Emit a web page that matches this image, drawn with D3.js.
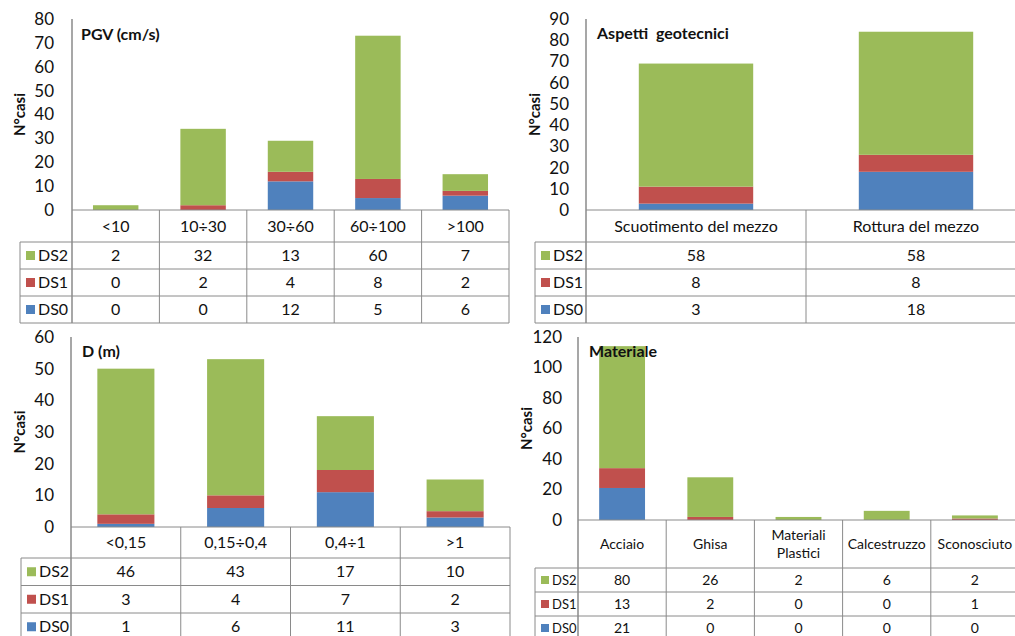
<!DOCTYPE html>
<html>
<head>
<meta charset="utf-8">
<script src="https://cdn.jsdelivr.net/npm/d3@7"></script>
<style>
	body { margin: 0; background: #fff; }
	svg { display: block; font-family: Lato, 'Liberation Sans', sans-serif; }
</style>
</head>
<body>
<svg id="chart" width="1015" height="636"></svg>
<script>
/* global d3 */
const seriesKeys = ['DS2', 'DS1', 'DS0'];
const seriesColors = { DS2: '#9bbb59', DS1: '#c0504d', DS0: '#4f81bd' };

// PGV (cm/s)
const pgvCategories = ['<10', '10÷30', '30÷60', '60÷100', '>100'];
const pgvDS2 = [2, 32, 13, 60, 7];
const pgvDS1 = [0, 2, 4, 8, 2];
const pgvDS0 = [0, 0, 12, 5, 6];
const pgvTicks = [0, 10, 20, 30, 40, 50, 60, 70, 80];

// Aspetti geotecnici
const geoCategories = ['Scuotimento del mezzo', 'Rottura del mezzo'];
const geoDS2 = [58, 58];
const geoDS1 = [8, 8];
const geoDS0 = [3, 18];
const geoTicks = [0, 10, 20, 30, 40, 50, 60, 70, 80, 90];

// D (m)
const dCategories = ['<0,15', '0,15÷0,4', '0,4÷1', '>1'];
const dDS2 = [46, 43, 17, 10];
const dDS1 = [3, 4, 7, 2];
const dDS0 = [1, 6, 11, 3];
const dTicks = [0, 10, 20, 30, 40, 50, 60];

// Materiale
const matCategories = ['Acciaio', 'Ghisa', 'Materiali Plastici', 'Calcestruzzo', 'Sconosciuto'];
const matDS2 = [80, 26, 2, 6, 2];
const matDS1 = [13, 2, 0, 0, 1];
const matDS0 = [21, 0, 0, 0, 0];
const matTicks = [0, 20, 40, 60, 80, 100, 120];

const LINE_COLOR = '#8a8a8a';
const TEXT_COLOR = '#111';

const svg = d3.select('#chart');

function drawPanel(cfg) {
	const { title, categories, values, ticks, box } = cfg;
	const rows = categories.map((c, i) => ({
		cat: c,
		DS0: values.DS0[i],
		DS1: values.DS1[i],
		DS2: values.DS2[i]
	}));

	const xScale = d3
		.scaleBand(categories, [box.left, box.right])
		.paddingInner(0.48)
		.paddingOuter(0.24);
	const yScale = d3.scaleLinear([0, ticks[ticks.length - 1]], [box.zero, box.top]);
	const step = xScale.step();
	const g = svg.append('g');

	/** BARS ******************************************************************/
	const stacked = d3.stack().keys(['DS0', 'DS1', 'DS2'])(rows);
	g.selectAll('.layer')
		.data(stacked)
		.enter()
		.append('g')
		.attr('fill', (d) => seriesColors[d.key])
		.selectAll('rect')
		.data((d) => d)
		.enter()
		.append('rect')
		.attr('x', (d) => xScale(d.data.cat))
		.attr('width', xScale.bandwidth())
		.attr('y', (d) => yScale(d[1]))
		.attr('height', (d) => yScale(d[0]) - yScale(d[1]));

	/** LEFT AXIS *************************************************************/
	const leftAxis = d3.axisLeft(yScale).tickValues(ticks).tickSize(0).tickPadding(box.tickPad);
	const axisG = g
		.append('g')
		.attr('transform', `translate(${box.left}, 0)`)
		.call(leftAxis);
	axisG.select('.domain').remove();
	axisG
		.selectAll('text')
		.attr('font-size', box.tickFont)
		.attr('font-family', 'Lato, sans-serif')
		.attr('fill', TEXT_COLOR);

	g.append('text')
		.attr('transform', `translate(${box.yTitleX}, ${(box.top + box.zero) / 2}) rotate(-90)`)
		.attr('text-anchor', 'middle')
		.attr('dy', '0.35em')
		.attr('font-weight', 'bold')
		.attr('font-size', 15)
		.attr('fill', TEXT_COLOR)
		.text('N°casi');

	g.append('text')
		.attr('x', box.titleX)
		.attr('y', box.titleY)
		.attr('font-weight', 'bold')
		.attr('font-size', 16)
		.attr('fill', TEXT_COLOR)
		.style('white-space', 'pre')
		.text(title);

	/** DATA TABLE ************************************************************/
	const tableBottom = box.catBottom + seriesKeys.length * box.rowH;
	const lines = g.append('g').attr('stroke', LINE_COLOR).attr('stroke-width', 1);

	// axis line, continued down through the table
	lines.append('line')
		.attr('x1', box.left).attr('x2', box.left)
		.attr('y1', box.top).attr('y2', tableBottom)
		.attr('stroke-width', 1.5);

	// column separators
	categories.forEach((c, i) => {
		const colRight = box.left + (i + 1) * step;
		lines.append('line')
			.attr('x1', colRight).attr('x2', colRight)
			.attr('y1', box.zero).attr('y2', tableBottom);
	});

	// horizontal lines
	lines.append('line')
		.attr('x1', box.left).attr('x2', box.right)
		.attr('y1', box.zero).attr('y2', box.zero);
	d3.range(seriesKeys.length + 1).forEach((i) => {
		const yy = box.catBottom + i * box.rowH;
		lines.append('line')
			.attr('x1', box.tableLeft).attr('x2', box.right)
			.attr('y1', yy).attr('y2', yy);
	});
	lines.append('line')
		.attr('x1', box.tableLeft).attr('x2', box.tableLeft)
		.attr('y1', box.catBottom).attr('y2', tableBottom);

	// category labels
	g.selectAll('.cat-label')
		.data(categories)
		.enter()
		.append('text')
		.attr('text-anchor', 'middle')
		.attr('font-size', box.catFont)
		.attr('fill', TEXT_COLOR)
		.each(function (d) {
			const cx = xScale(d) + xScale.bandwidth() / 2;
			const cy = (box.zero + box.catBottom) / 2;
			const parts = box.wrap && d.length > box.wrap ? d.split(' ') : [d];
			const lh = box.catFont * 1.3;
			parts.forEach((p, k) => {
				d3.select(this)
					.append('tspan')
					.attr('x', cx)
					.attr('y', cy + (k - (parts.length - 1) / 2) * lh)
					.attr('dy', '0.35em')
					.text(p);
			});
		});

	// series rows
	seriesKeys.forEach((key, i) => {
		const cy = box.catBottom + i * box.rowH + box.rowH / 2;
		g.append('rect')
			.attr('x', box.tableLeft + 6)
			.attr('y', cy - box.sq / 2)
			.attr('width', box.sq)
			.attr('height', box.sq)
			.attr('fill', seriesColors[key]);
		g.append('text')
			.attr('x', box.tableLeft + 9 + box.sq)
			.attr('y', cy)
			.attr('dy', '0.35em')
			.attr('font-size', box.legendFont || box.valFont)
			.attr('fill', TEXT_COLOR)
			.text(key);
		g.selectAll(`.val-${key}`)
			.data(rows)
			.enter()
			.append('text')
			.attr('x', (d) => xScale(d.cat) + xScale.bandwidth() / 2)
			.attr('y', cy)
			.attr('dy', '0.35em')
			.attr('text-anchor', 'middle')
			.attr('font-size', box.valFont)
			.attr('fill', TEXT_COLOR)
			.text((d) => d[key]);
	});
}

drawPanel({
	title: 'PGV (cm/s)',
	categories: pgvCategories,
	values: { DS2: pgvDS2, DS1: pgvDS1, DS0: pgvDS0 },
	ticks: pgvTicks,
	box: {
		left: 72, right: 509, top: 19, zero: 210, catBottom: 242, rowH: 27,
		tableLeft: 20, tickPad: 18, tickFont: 17, catFont: 16, valFont: 16, sq: 9,
		yTitleX: 20, titleX: 81, titleY: 40
	}
});

drawPanel({
	title: 'Aspetti  geotecnici',
	categories: geoCategories,
	values: { DS2: geoDS2, DS1: geoDS1, DS0: geoDS0 },
	ticks: geoTicks,
	box: {
		left: 586, right: 1026, top: 19, zero: 210, catBottom: 242, rowH: 27,
		tableLeft: 535, tickPad: 17, tickFont: 17, catFont: 16, valFont: 16, sq: 9,
		yTitleX: 535, titleX: 597, titleY: 39
	}
});

drawPanel({
	title: 'D (m)',
	categories: dCategories,
	values: { DS2: dDS2, DS1: dDS1, DS0: dDS0 },
	ticks: dTicks,
	box: {
		left: 71, right: 510, top: 337, zero: 527, catBottom: 558, rowH: 27.5,
		tableLeft: 21, tickPad: 17, tickFont: 17, catFont: 16, valFont: 16, sq: 9,
		yTitleX: 20, titleX: 82, titleY: 357
	}
});

drawPanel({
	title: 'Materiale',
	categories: matCategories,
	values: { DS2: matDS2, DS1: matDS1, DS0: matDS0 },
	ticks: matTicks,
	box: {
		left: 578, right: 1019, top: 337, zero: 520, catBottom: 568, rowH: 24,
		tableLeft: 535, tickPad: 16, tickFont: 17, catFont: 14, valFont: 14, legendFont: 13, sq: 8,
		yTitleX: 527, titleX: 589, titleY: 357, wrap: 14
	}
});
</script>
</body>
</html>
